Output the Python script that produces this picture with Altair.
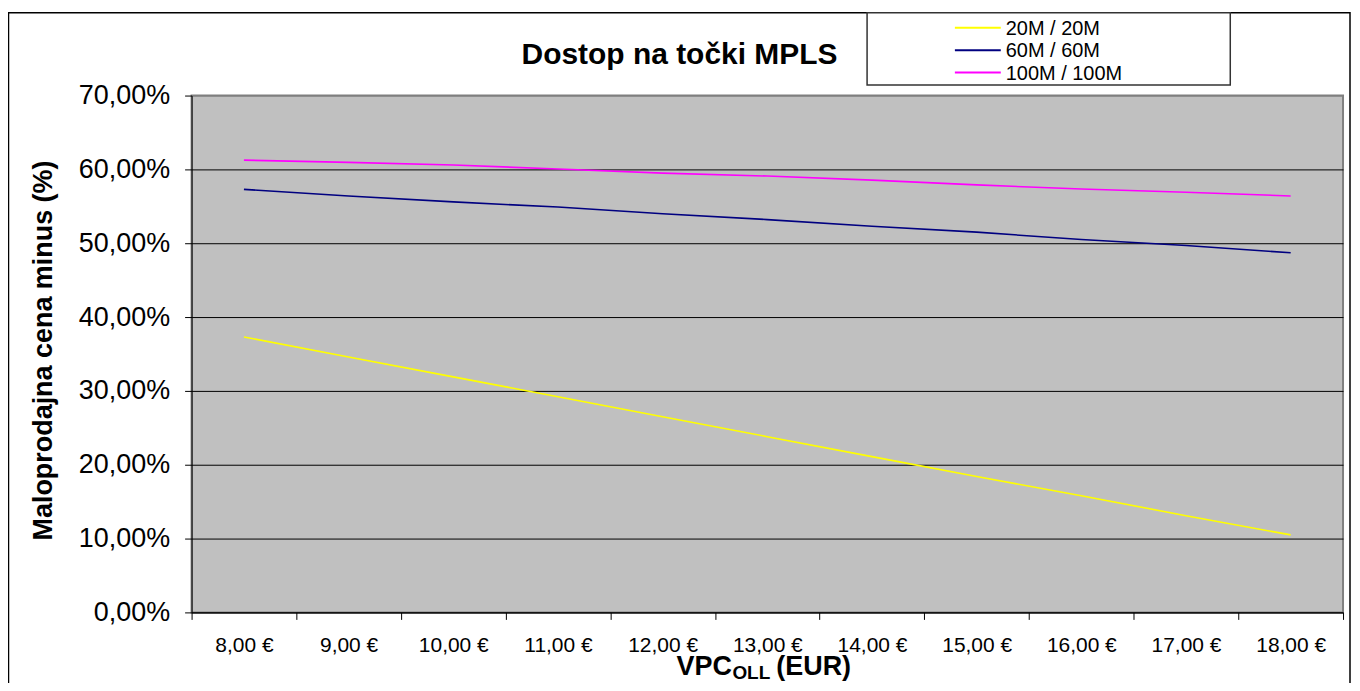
import altair as alt
import pandas as pd

# ---- data ----
categories = ["8,00 €", "9,00 €", "10,00 €", "11,00 €", "12,00 €", "13,00 €",
              "14,00 €", "15,00 €", "16,00 €", "17,00 €", "18,00 €"]
series_names = ["20M / 20M", "60M / 60M", "100M / 100M"]
series_colors = ["#FFFF00", "#000080", "#FF00FF"]
s20 = [37.3, 34.6, 31.9, 29.2, 26.5, 23.8, 21.1, 18.4, 15.8, 13.1, 10.5]
s60 = [57.3, 56.4, 55.6, 54.9, 54.0, 53.2, 52.3, 51.5, 50.5, 49.7, 48.7]
s100 = [61.25, 60.95, 60.6, 60.05, 59.5, 59.1, 58.55, 57.9, 57.35, 56.9, 56.4]
y_ticks = [0, 10, 20, 30, 40, 50, 60, 70]

title_text = "Dostop na točki MPLS"
y_title = "Maloprodajna cena minus (%)"
x_title_parts = ["VPC", "OLL", "(EUR)"]

rows = []
for name, vals in zip(series_names, [s20, s60, s100]):
    for c, v in zip(categories, vals):
        rows.append({"VPC": c, "Serija": name, "Vrednost": v})
df = pd.DataFrame(rows)

FONT = "Liberation Sans"
W, H = 1154, 518

lines = alt.Chart(df).mark_line(strokeWidth=1.6).encode(
    x=alt.X(
        "VPC:N", sort=categories, bandPosition=0.5,
        scale=alt.Scale(type="band", paddingInner=0, paddingOuter=0),
        axis=alt.Axis(
            title=None, labelAngle=0, labelFontSize=21, labelFont=FONT,
            labelColor="black", tickBand="extent", tickSize=7,
            tickColor="black", domainColor="black", labelPadding=15,
            labelBaseline="top", grid=False,
        ),
    ),
    y=alt.Y(
        "Vrednost:Q", scale=alt.Scale(domain=[0, 70], nice=False),
        axis=alt.Axis(
            values=y_ticks,
            labelExpr="replace(format(datum.value, '.2f'), '.', ',') + '%'",
            labelFontSize=27, labelFont=FONT, labelColor="black",
            labelPadding=15, tickSize=7, tickColor="black",
            domainColor="black",
            gridColor=alt.condition("datum.value == 70", alt.value("#808080"), alt.value("black")),
            gridWidth=1,
            title=y_title, titleFont=FONT, titleFontSize=27,
            titleFontWeight="bold", titleColor="black",
            titleX=-148, titleY=H / 2 - 4, titleAngle=270,
            titleAlign="center", titleBaseline="middle",
        ),
    ),
    color=alt.Color(
        "Serija:N", sort=series_names,
        scale=alt.Scale(domain=series_names, range=series_colors),
        legend=None,
    ),
)

one = pd.DataFrame({"k": [0]})

outer = alt.Chart(one).mark_rect(fillOpacity=0, stroke="black", strokeWidth=1.5).encode(
    x=alt.value(-183.5), x2=alt.value(1161), y=alt.value(-83), y2=alt.value(700)
)
legend_box = alt.Chart(one).mark_rect(fill="white", stroke="#333333", strokeWidth=1.5).encode(
    x=alt.value(677), x2=alt.value(1041), y=alt.value(-83), y2=alt.value(-10.5)
)

# manual legend (one row per series)
legend_layers = []
row_y = [-68, -45.5, -23]
for i, (name, col) in enumerate(zip(series_names, series_colors)):
    ldf = pd.DataFrame({"Serija": [name]})
    legend_layers.append(
        alt.Chart(ldf).mark_rule(strokeWidth=2, color=col).encode(
            x=alt.value(765), x2=alt.value(811), y=alt.value(row_y[i])
        )
    )
    legend_layers.append(
        alt.Chart(ldf).mark_text(
            font=FONT, fontSize=20, color="black", align="left", baseline="middle"
        ).encode(x=alt.value(816), y=alt.value(row_y[i] + 1), text="Serija:N")
    )

title = alt.Chart(pd.DataFrame({"t": [title_text]})).mark_text(
    font=FONT, fontSize=30, fontWeight="bold", color="black",
    align="center", baseline="alphabetic"
).encode(x=alt.value(489), y=alt.value(-32), text="t:N")

XT_Y = 581
xt1 = alt.Chart(pd.DataFrame({"t": [x_title_parts[0]]})).mark_text(
    font=FONT, fontSize=27, fontWeight="bold", color="black",
    align="left", baseline="alphabetic"
).encode(x=alt.value(486), y=alt.value(XT_Y), text="t:N")
xt2 = alt.Chart(pd.DataFrame({"t": [x_title_parts[1]]})).mark_text(
    font=FONT, fontSize=19, fontWeight="bold", color="black",
    align="left", baseline="alphabetic"
).encode(x=alt.value(542), y=alt.value(XT_Y + 4), text="t:N")
xt3 = alt.Chart(pd.DataFrame({"t": [x_title_parts[2]]})).mark_text(
    font=FONT, fontSize=27, fontWeight="bold", color="black",
    align="left", baseline="alphabetic"
).encode(x=alt.value(586), y=alt.value(XT_Y), text="t:N")

chart = alt.layer(outer, legend_box, lines, *legend_layers, title, xt1, xt2, xt3).properties(
    width=W, height=H,
    background="white",
    autosize=alt.AutoSizeParams(type="none"),
    padding={"left": 184, "top": 87, "right": 9, "bottom": 70},
).configure_view(
    fill="#C0C0C0", stroke="#808080", strokeWidth=2
)

chart.save("out.html", embed_options={"renderer": "svg", "actions": False})
